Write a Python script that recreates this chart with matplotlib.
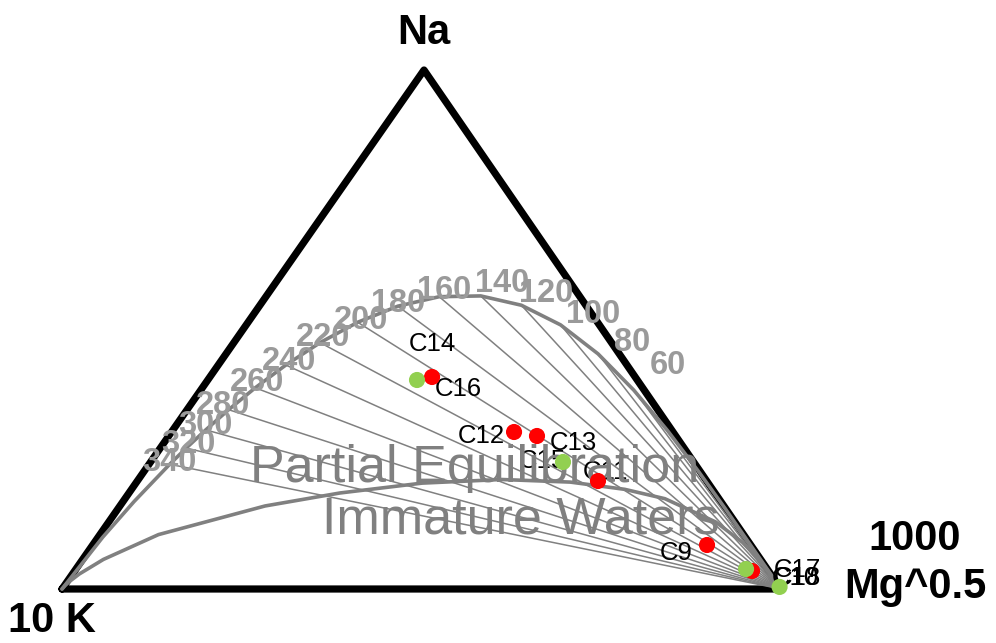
import matplotlib
matplotlib.use("Agg")
import matplotlib.pyplot as plt

# ---------------- data (ternary shares of Na/1000, K/100, Mg^0.5) ----------------
# Full equilibrium curve
feq_temp = [0, 20, 40, 60, 80, 100, 120, 140, 160, 180, 200, 220, 240, 260, 280, 300, 320, 340, 400, 500]
feq_na = [0.1558, 0.2273, 0.3057, 0.3832, 0.4531, 0.5089, 0.5468, 0.5647, 0.5632, 0.5450,
          0.5139, 0.4747, 0.4315, 0.3877, 0.3455, 0.3066, 0.2715, 0.2404, 0.1685, 0.0998]
feq_k = [0.0007, 0.0023, 0.0063, 0.0145, 0.0295, 0.0539, 0.0896, 0.1372, 0.1957, 0.2624,
         0.3335, 0.4053, 0.4745, 0.5387, 0.5967, 0.6478, 0.6923, 0.7308, 0.8161, 0.8938]
feq_mg = [0.8435, 0.7704, 0.6881, 0.6023, 0.5174, 0.4372, 0.3637, 0.2981, 0.2411, 0.1927,
          0.1525, 0.1200, 0.0940, 0.0736, 0.0578, 0.0456, 0.0361, 0.0288, 0.0154, 0.0064]

# labelled isotherms (Na/K lines drawn to the Mg vertex)
iso_temps = [60, 80, 100, 120, 140, 160, 180, 200, 220, 240, 260, 280, 300, 320, 340]

# Immature waters / partial equilibration line
imm_na = [0.0, 0.0070, 0.0144, 0.0290, 0.0570, 0.1048, 0.1600, 0.1850, 0.2040, 0.2110, 0.2060,
          0.1920, 0.1740, 0.1292, 0.0901, 0.0611, 0.0409, 0.0179, 0.0]
imm_k = [1.0, 0.9920, 0.9825, 0.9613, 0.9141, 0.8138, 0.6382, 0.5216, 0.3980, 0.2840, 0.1908,
         0.1219, 0.0751, 0.0267, 0.0090, 0.0030, 0.0010, 0.0001, 0.0]
imm_mg = [0.0, 0.0010, 0.0031, 0.0096, 0.0289, 0.0814, 0.2019, 0.2934, 0.3980, 0.5050, 0.6033,
          0.6860, 0.7509, 0.8441, 0.9009, 0.9359, 0.9582, 0.9820, 1.0]

# Samples
sample_names = ["C16", "C14", "C12", "C13", "C15", "C11", "C9", "C17", "C18", "C10"]
sample_group = ["green", "red", "red", "red", "green", "red", "red", "green", "red", "green"]
sample_na = [0.4027, 0.4085, 0.3025, 0.2948, 0.2447, 0.2081, 0.0848, 0.0385, 0.0347, 0.0040]
sample_k = [0.3063, 0.2825, 0.2211, 0.1930, 0.1817, 0.1512, 0.0608, 0.0295, 0.0231, 0.0000]
sample_mg = [0.2910, 0.3090, 0.4764, 0.5122, 0.5736, 0.6407, 0.8544, 0.9320, 0.9422, 0.9960]

# ---------------- layout ----------------
W, H = 996, 643
VK = (62, 589)
VNA = (424, 70)
VMG = (781, 589)

COLORS = {"red": "#FF0000", "green": "#92D050"}
FONT = "Liberation Sans"


def tern(na, k, mg):
    s = na + k + mg
    na, k, mg = na / s, k / s, mg / s
    return (na * VNA[0] + k * VK[0] + mg * VMG[0],
            na * VNA[1] + k * VK[1] + mg * VMG[1])


def text_cap(ax, x, yc, s, size, **kw):
    """place text so that the cap-height centre sits at yc (pixel coords)."""
    em = size * 100 / 72
    ax.text(x, yc + 0.358 * em, s, va="baseline", ha=kw.pop("ha", "center"),
            fontsize=size, family=FONT, **kw)


fig = plt.figure(figsize=(W / 100, H / 100), dpi=100)
ax = fig.add_axes([0, 0, 1, 1])
ax.set_xlim(0, W)
ax.set_ylim(H, 0)
ax.axis("off")

# triangle
tri = [tern(0, 1, 0), tern(1, 0, 0), tern(0, 0, 1), tern(0, 1, 0)]
ax.plot([p[0] for p in tri], [p[1] for p in tri], color="black", lw=5.2,
        solid_joinstyle="round", solid_capstyle="round", zorder=1)

# isotherms to the Mg vertex
mgv = tern(0, 0, 1)
for t in iso_temps:
    i = feq_temp.index(t)
    p = tern(feq_na[i], feq_k[i], feq_mg[i])
    ax.plot([p[0], mgv[0]], [p[1], mgv[1]], color="#808080", lw=1.1, zorder=2)

# full equilibrium curve
pts = [tern(0, 0, 1)] + [tern(a, b, c) for a, b, c in zip(feq_na, feq_k, feq_mg)] + [tern(0, 1, 0)]
ax.plot([p[0] for p in pts], [p[1] for p in pts], color="#808080", lw=2.6,
        solid_joinstyle="round", solid_capstyle="round", zorder=3)

# immature waters curve
pts = [tern(a, b, c) for a, b, c in zip(imm_na, imm_k, imm_mg)]
ax.plot([p[0] for p in pts], [p[1] for p in pts], color="#808080", lw=2.6,
        solid_joinstyle="round", solid_capstyle="round", zorder=3)

# temperature labels
temp_off = {60: (34, -28), 80: (34, -15), 100: (33, -14), 120: (25, -15), 140: (21, -16),
            160: (5, -9), 180: (0, -6), 200: (3, -5), 220: (3, -8), 240: (3, -7),
            260: (2, -8), 280: (-6, -7), 300: (0, -8), 320: (2, -7), 340: (0, -5)}
for t in iso_temps:
    i = feq_temp.index(t)
    x, y = tern(feq_na[i], feq_k[i], feq_mg[i])
    dx, dy = temp_off[t]
    text_cap(ax, x + dx, y + dy, str(t), 23.5, color="#9A9A9A", fontweight="bold", zorder=4)

# sample labels
lab_off = {"C16": (41, 7), "C14": (0, -35), "C12": (-33, 2), "C13": (36, 5), "C15": (-21, -3),
           "C11": (7, -11), "C9": (-31, 6), "C17": (51, -1), "C18": (45, 5), "C10": (16, -11)}
for nm, a, b, c in zip(sample_names, sample_na, sample_k, sample_mg):
    x, y = tern(a, b, c)
    dx, dy = lab_off[nm]
    text_cap(ax, x + dx, y + dy, nm, 18.5, color="black", zorder=5)

# region texts
text_cap(ax, 475, 463, "Partial Equilibration", 37.5, color="#808080", zorder=6)
text_cap(ax, 521, 515, "Immature Waters", 37.5, color="#808080", zorder=6)

# samples
for grp in ["red", "green"]:
    xs, ys = [], []
    for g, a, b, c in zip(sample_group, sample_na, sample_k, sample_mg):
        if g == grp:
            x, y = tern(a, b, c)
            xs.append(x)
            ys.append(y)
    ax.scatter(xs, ys, s=135, color=COLORS[grp], edgecolors="none", zorder=7)

# vertex labels
text_cap(ax, 424, 29, "Na", 30, color="black", fontweight="bold", zorder=8)
text_cap(ax, 52, 617, "10 K", 30, color="black", fontweight="bold", zorder=8)
text_cap(ax, 915, 535, "1000", 30, color="black", fontweight="bold", zorder=8)
text_cap(ax, 915, 583, "Mg^0.5", 30, color="black", fontweight="bold", zorder=8)

fig.savefig("out.png", dpi=100, facecolor="white")
